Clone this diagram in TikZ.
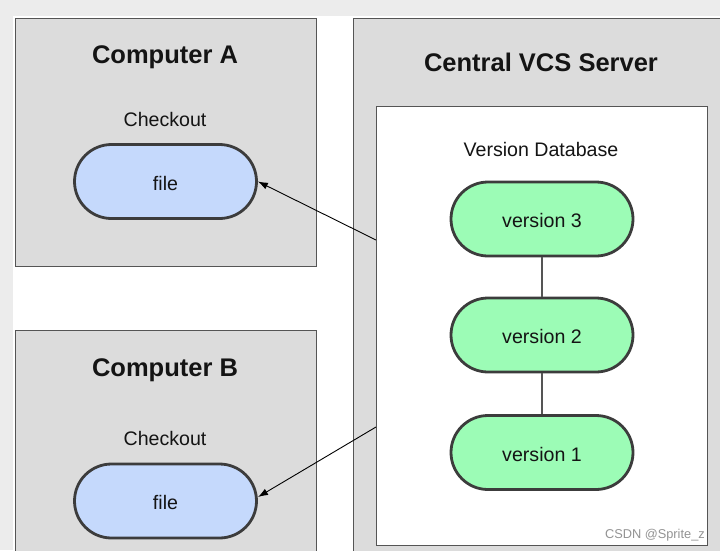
\documentclass[tikz,border=0pt]{standalone}
\usepackage{fontspec}
\setmainfont{Liberation Sans}
\usetikzlibrary{arrows.meta}
\definecolor{pagegray}{HTML}{ECECEC}
\definecolor{boxgray}{HTML}{DCDCDC}
\definecolor{boxline}{HTML}{555555}
\definecolor{pillline}{HTML}{3C3C3C}
\definecolor{fileblue}{HTML}{C5D9FC}
\definecolor{vergreen}{HTML}{9CFCB6}
\definecolor{txt}{HTML}{141414}
\tikzset{
  grp/.style={draw=boxline, fill=boxgray, line width=1.3pt, anchor=north west, inner sep=0pt},
  dbbox/.style={draw=boxline, fill=white, line width=1.3pt, anchor=north west, inner sep=0pt},
  pill/.style={draw=pillline, line width=2.8pt, rounded corners=37pt, minimum width=182pt, minimum height=74pt, inner sep=0pt, font=\fontsize{19.6}{22}\selectfont, text=txt, text height=17pt, text depth=0pt},
  filepill/.style={pill, fill=fileblue},
  verpill/.style={pill, fill=vergreen},
  title/.style={font=\fontsize{25.5}{30}\selectfont\bfseries, text=txt, inner sep=0pt, anchor=base},
  label/.style={font=\fontsize{19.6}{22}\selectfont, text=txt, inner sep=0pt, anchor=base},
  link/.style={draw=boxline, line width=1.5pt},
  arr/.style={draw=black, line width=0.9pt, -{Latex[length=10pt,width=7pt]}}
}
\begin{document}
\begin{tikzpicture}[x=1pt,y=-1pt]
\useasboundingbox (0,0) rectangle (720,550);
\clip (0,0) rectangle (720,550);
\fill[white] (0,0) rectangle (720,550);
\fill[pagegray] (0,0) rectangle (720,16);
\fill[pagegray] (0,0) rectangle (13,550);
% boxes
\node[grp, minimum width=301pt, minimum height=248pt] (compA) at (15,18) {};
\node[grp, minimum width=301pt, minimum height=260pt] (compB) at (15,330) {};
\node[grp, minimum width=400pt, minimum height=560pt] (server) at (353,18) {};
\node[dbbox, minimum width=331pt, minimum height=439pt] (db) at (376,106) {};
% titles
\node[title] (tA) at (165,63.3) {Computer A};
\node[title] (tB) at (165,376.7) {Computer B};
\node[title] (tS) at (541,71.7) {Central VCS Server};
\node[label] (cA) at (165,126) {Checkout};
\node[label] (cB) at (165,445.7) {Checkout};
\node[label] (vdb) at (541,156.7) {Version Database};
% pills
\node[filepill] (fileA) at (165.5,181.5) {file};
\node[filepill] (fileB) at (165.5,501) {file};
\node[verpill] (v3) at (542,219) {version 3};
\node[verpill] (v2) at (542,335) {version 2};
\node[verpill] (v1) at (542,452.5) {version 1};
\draw[link] (v3) -- (v2);
\draw[link] (v2) -- (v1);
% arrows
\coordinate (sA) at (376,240);
\coordinate (sB) at (376,427);
\coordinate (eB) at (258,497);
\draw[arr] (sA) -- (fileA.east);
\draw[arr] (sB) -- (eB);
% watermark
\node[font=\fontsize{12.8}{14}\selectfont, text=gray!85, anchor=base east, inner sep=0pt] (wm) at (705,538) {CSDN @Sprite\_z};
\end{tikzpicture}
\end{document}
